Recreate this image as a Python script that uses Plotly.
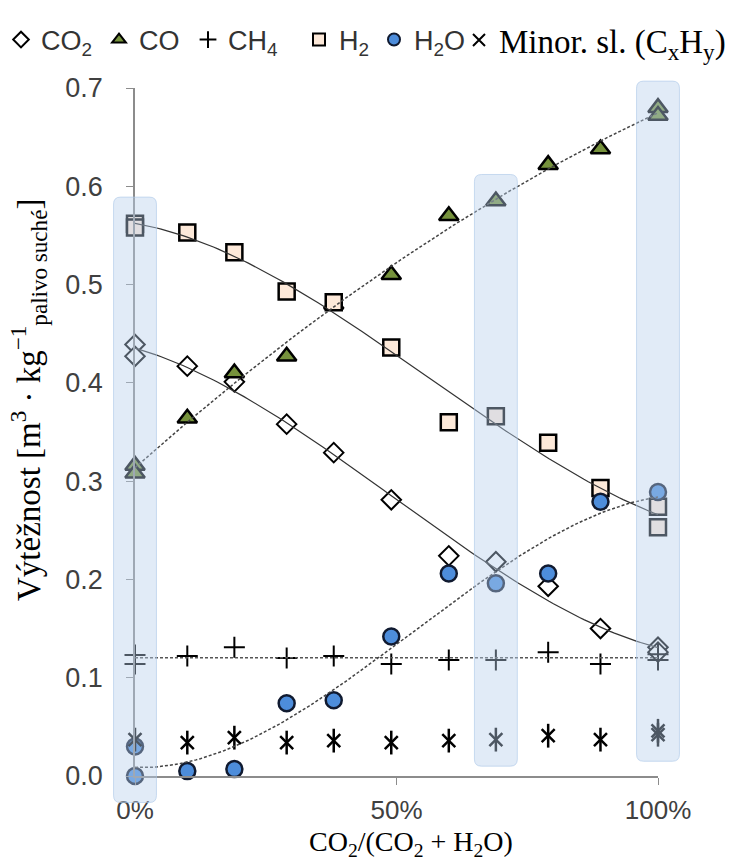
import numpy as np
import plotly.graph_objects as go

# ---------------- data ----------------
co2_x = [0, 0, 0.10, 0.19, 0.29, 0.38, 0.49, 0.60, 0.69, 0.79, 0.89, 1.00, 1.00]
co2_y = [0.439, 0.427, 0.417, 0.401, 0.358, 0.329, 0.281, 0.224, 0.218, 0.193, 0.150, 0.131, 0.126]

co_x = [0, 0, 0.10, 0.19, 0.29, 0.38, 0.49, 0.60, 0.69, 0.79, 0.89, 1.00, 1.00]
co_y = [0.316, 0.308, 0.364, 0.410, 0.427, 0.480, 0.510, 0.570, 0.585, 0.622, 0.638, 0.680, 0.672]

ch4_x = [0, 0, 0.10, 0.19, 0.29, 0.38, 0.49, 0.60, 0.69, 0.79, 0.89, 1.00, 1.00]
ch4_y = [0.123, 0.114, 0.122, 0.131, 0.120, 0.122, 0.114, 0.118, 0.118, 0.126, 0.114, 0.124, 0.118]

h2_x = [0, 0, 0.10, 0.19, 0.29, 0.38, 0.49, 0.60, 0.69, 0.79, 0.89, 1.00, 1.00]
h2_y = [0.562, 0.558, 0.553, 0.533, 0.493, 0.482, 0.436, 0.360, 0.366, 0.339, 0.293, 0.274, 0.253]

h2o_x = [0, 0, 0.10, 0.19, 0.29, 0.38, 0.49, 0.60, 0.69, 0.79, 0.89, 1.00]
h2o_y = [0.030, 0.000, 0.005, 0.007, 0.074, 0.077, 0.142, 0.206, 0.196, 0.206, 0.279, 0.289]

minor_x = [0, 0.10, 0.19, 0.29, 0.38, 0.49, 0.60, 0.69, 0.79, 0.89, 1.00, 1.00]
minor_y = [0.037, 0.034, 0.039, 0.034, 0.036, 0.034, 0.036, 0.037, 0.041, 0.037, 0.046, 0.042]

highlight_x = [0.0, 0.69, 1.0]

x_ticks = [0, 0.5, 1.0]
y_range = [0, 0.7]

# ---------------- styling ----------------
SANS = "Liberation Sans, Arial, sans-serif"
SERIF = "Liberation Serif, Times New Roman, serif"
AXIS_GREY = "#8c8c8c"
ML, MR, MT, MB = 135, 75, 88, 85
W, H = 733, 861
PLOT_W, PLOT_H = W - ML - MR, H - MT - MB

# left pixel of each legend entry (one small legend per series)
LEGEND_LEFT_PX = [1, 99, 188, 299, 374, 459]
LEGEND_KEYS = ["legend", "legend2", "legend3", "legend4", "legend5", "legend6"]

fig = go.Figure()

def markers(x, y, name, symbol, size, fill, line_color, line_width,
            showlegend=True, legend="legend"):
    fig.add_trace(go.Scatter(
        x=x, y=y, mode="markers", name=name, showlegend=showlegend,
        legend=legend, cliponaxis=False,
        marker=dict(symbol=symbol, size=size, color=fill,
                    line=dict(color=line_color, width=line_width)),
        hoverinfo="skip",
    ))

markers(co2_x, co2_y, "CO<sub>2</sub>", "diamond", 15, "white", "black", 2,
        legend=LEGEND_KEYS[0])
markers(co_x, co_y, "CO", "triangle-up", 17, "#76923c", "black", 2.5,
        legend=LEGEND_KEYS[1])
markers(ch4_x, ch4_y, "CH<sub>4</sub>", "cross-thin-open", 15, "black", "black", 2,
        legend=LEGEND_KEYS[2])
markers(h2_x, h2_y, "H<sub>2</sub>", "square", 16, "#fde9d9", "black", 2.5,
        legend=LEGEND_KEYS[3])
markers(h2o_x, h2o_y, "H<sub>2</sub>O", "circle", 16, "#4d8ddb", "#101a30", 2.5,
        legend=LEGEND_KEYS[4])
markers(minor_x, minor_y, "Minor. sl. (C<sub>x</sub>H<sub>y</sub>)",
        "x-thin-open", 13, "black", "black", 2.5, legend=LEGEND_KEYS[5])
markers(minor_x, minor_y, "minor2", "line-ns-open", 17, "black", "black", 2.5,
        showlegend=False)

# ---------------- trend lines (polynomial fits of the data) ----------------
xs = np.linspace(0, 1, 121)

def trend(x, y, deg, dash, width, color):
    c = np.polyfit(x, y, deg)
    fig.add_trace(go.Scatter(
        x=xs, y=np.polyval(c, xs), mode="lines", showlegend=False,
        line=dict(color=color, width=width, dash=dash), hoverinfo="skip",
        cliponaxis=False,
    ))

trend(co2_x, co2_y, 3, "solid", 1.2, "#333333")
trend(h2_x, h2_y, 3, "solid", 1.2, "#333333")
trend(co_x, co_y, 2, "3px,2px", 1.5, "#444444")
trend(ch4_x, ch4_y, 0, "3px,2px", 1.3, "#555555")
trend(h2o_x, h2o_y, 3, "3px,2px", 1.5, "#444444")

# ---------------- highlight boxes ----------------
all_series = [(co2_x, co2_y), (co_x, co_y), (ch4_x, ch4_y), (h2_x, h2_y),
              (h2o_x, h2o_y), (minor_x, minor_y)]
hw = 0.041
pad = 0.027
rx, ry = 7 / PLOT_W, 7 / PLOT_H
shapes = []
for hx in highlight_x:
    vals = [yv for sx, sy in all_series for xv, yv in zip(sx, sy) if abs(xv - hx) < 1e-9]
    x0, x1 = hx - hw, hx + hw
    y0 = (min(vals) - pad - y_range[0]) / (y_range[1] - y_range[0])
    y1 = (max(vals) + pad - y_range[0]) / (y_range[1] - y_range[0])
    path = (f"M{x0+rx},{y1} L{x1-rx},{y1} Q{x1},{y1} {x1},{y1-ry} "
            f"L{x1},{y0+ry} Q{x1},{y0} {x1-rx},{y0} L{x0+rx},{y0} "
            f"Q{x0},{y0} {x0},{y0+ry} L{x0},{y1-ry} Q{x0},{y1} {x0+rx},{y1} Z")
    shapes.append(dict(type="path", path=path, xref="x domain", yref="y domain",
                       fillcolor="rgba(184,208,236,0.42)",
                       line=dict(color="rgba(170,198,232,0.6)", width=1),
                       layer="above"))

legend_y = 1 + (MT - 40) / PLOT_H
legends = {}
for i, (key, left) in enumerate(zip(LEGEND_KEYS, LEGEND_LEFT_PX)):
    is_serif = (i == len(LEGEND_KEYS) - 1)
    legends[key] = dict(
        orientation="h", x=(left - ML) / PLOT_W, xanchor="left",
        y=legend_y, yanchor="middle", itemsizing="constant",
        font=dict(family=SERIF if is_serif else SANS,
                  size=33 if is_serif else 27,
                  color="black" if is_serif else "#333333"),
        itemwidth=30, bgcolor="rgba(0,0,0,0)")

fig.update_layout(
    width=W, height=H,
    margin=dict(l=ML, r=MR, t=MT, b=MB, autoexpand=False),
    paper_bgcolor="white", plot_bgcolor="white",
    shapes=shapes,
    showlegend=True,
    **legends,
    xaxis=dict(range=[0, 1], tickvals=x_ticks, tickformat=".0%",
               showline=True, linecolor=AXIS_GREY, linewidth=1.5,
               ticks="outside", ticklen=7, tickcolor=AXIS_GREY, tickwidth=1.3,
               showgrid=False, zeroline=False, ticklabelstandoff=3,
               automargin=False,
               tickfont=dict(family=SANS, size=26, color="#404040")),
    yaxis=dict(range=y_range, dtick=0.1, tickformat=".1f",
               showline=True, linecolor=AXIS_GREY, linewidth=1.5,
               ticks="outside", ticklen=7, tickcolor=AXIS_GREY, tickwidth=1.3,
               showgrid=False, zeroline=False, ticklabelstandoff=18,
               automargin=False,
               tickfont=dict(family=SANS, size=27, color="#404040")),
    annotations=[
        dict(text="Výtěžnost [m<sup>3</sup> · kg<sup>−1</sup><sub>palivo suché</sub>]",
             xref="paper", yref="paper", x=-(ML - 28) / PLOT_W, y=(H - MB - 400) / PLOT_H,
             xanchor="center", yanchor="middle", textangle=-90, showarrow=False,
             font=dict(family=SERIF, size=33, color="black")),
        dict(text="CO<sub>2</sub>/(CO<sub>2</sub> + H<sub>2</sub>O)",
             xref="paper", yref="paper", x=(411 - ML) / PLOT_W, y=-(843 - (H - MB)) / PLOT_H,
             xanchor="center", yanchor="middle", showarrow=False,
             font=dict(family=SERIF, size=28, color="black")),
    ],
)

fig.write_html("out.html")
